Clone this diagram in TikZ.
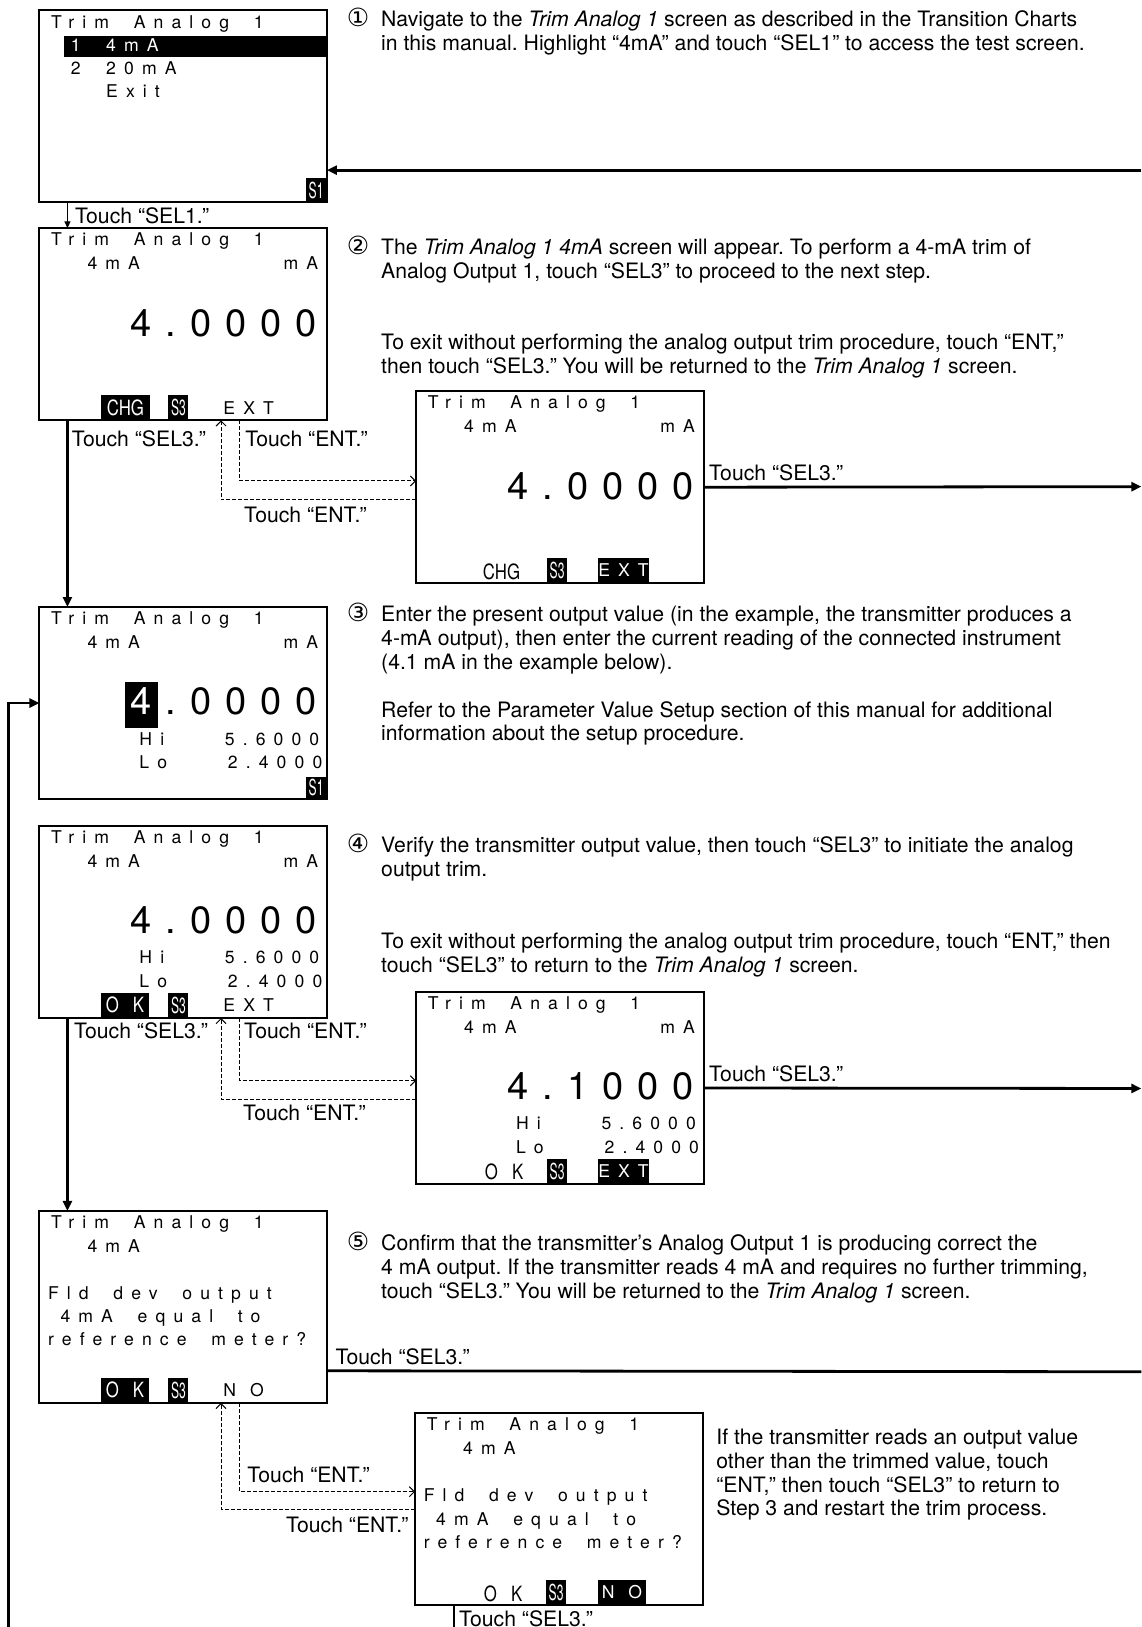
\documentclass[tikz,border=0pt]{standalone}
\usepackage{fontspec}
\setmainfont{TeX Gyre Heros}
\newfontfamily\lcdfont[LetterSpace=46,WordSpace=1.9]{TeX Gyre Heros}
\newfontfamily\bigfont[LetterSpace=37]{TeX Gyre Heros}
\newfontfamily\condfont[FakeStretch=0.8]{TeX Gyre Heros}
\newfontfamily\tagfont[FakeStretch=0.55]{TeX Gyre Heros}
\newfontfamily\circfont{DejaVu Sans}
\usetikzlibrary{positioning, arrows.meta, calc}
\newcommand{\textlines}[1]{\begin{tabular}[t]{@{}l@{}}#1\end{tabular}}
\frenchspacing

\begin{document}
\begin{tikzpicture}[
        x=0.5187pt, y=-0.5187pt,
        screen/.style={rectangle, draw=black, line width=1pt, minimum width=143.7pt, minimum height=96pt, inner sep=0pt, outer sep=0pt, anchor=north west},
        lcd/.style={font=\lcdfont\fontsize{8.8}{10}\selectfont, inner sep=0pt, anchor=base west},
        lcdr/.style={lcd, anchor=base east},
        bignum/.style={font=\bigfont\fontsize{19}{22}\selectfont, inner sep=0pt, anchor=base east},
        tag/.style={fill=black, text=white, inner sep=0pt, minimum height=12.4pt, anchor=south west, font=\tagfont\fontsize{11}{12}\selectfont},
        steptext/.style={anchor=base west, inner sep=0pt, font=\fontsize{10.6}{11.93}\selectfont},
        touch/.style={font=\fontsize{10.6}{12}\selectfont, inner sep=0pt, anchor=base west},
        stepnum/.style={font=\circfont\fontsize{12.5}{12}\selectfont, inner sep=0pt, anchor=base west},
        arrow/.style={-{Triangle[length=5pt, width=4.5pt]}, line width=1.4pt},
        thinarrow/.style={-{Triangle[length=3.5pt, width=3pt]}, line width=0.6pt},
        entarrow/.style={-{Straight Barb[length=2.5pt, width=5pt]}, line width=0.5pt, dash pattern=on 2pt off 1pt}
    ]
    \useasboundingbox (0,0) rectangle (1100,1568);

    % Screens
    \node[screen] (s1) at (38,10) {};
    \node[screen] (s2) at (38,220) {};
    \node[screen] (s2b) at (401,377) {};
    \node[screen] (s3) at (38,585) {};
    \node[screen] (s4) at (38,796) {};
    \node[screen] (s4b) at (401,956) {};
    \node[screen] (s5) at (38,1167) {};
    \node[screen] (s5b) at (400,1362) {};

    % Header lines
    \foreach \s in {s1,s2,s2b,s3,s4,s4b,s5,s5b}
        \node[lcd] (\s-head) at ($(\s.north west)+(11,17)$) {Trim Analog 1};
    \foreach \s in {s2,s2b,s3,s4,s4b,s5,s5b}
        \node[lcd] (\s-sub) at ($(\s.north west)+(46,40)$) {4mA};
    \foreach \s in {s2,s2b,s3,s4,s4b}
        \node[lcdr] (\s-unit) at ($(\s.north west)+(269,40)$) {mA};

    % Screen 1 menu
    \node[fill=black, inner sep=0pt, minimum width=131.4pt, minimum height=10.9pt, anchor=north east] (s1-bar) at ($(s1.north east)+(0,24)$) {};
    \node[lcd, text=white] (s1-n1) at ($(s1.north west)+(30,40)$) {1};
    \node[lcd, text=white] (s1-m1) at ($(s1.north west)+(64,40)$) {4mA};
    \node[lcd] (s1-n2) at ($(s1.north west)+(30,62)$) {2};
    \node[lcd] (s1-m2) at ($(s1.north west)+(64,62)$) {20mA};
    \node[lcd] (s1-m3) at ($(s1.north west)+(64,84)$) {Exit};
    \node[tag, anchor=south east, minimum width=10.4pt, minimum height=12pt] (s1-key) at (s1.south east) {S1};

    % Big readings
    \node[bignum] (s2-val) at ($(s2.north west)+(268,104)$) {4.0000};
    \node[bignum] (s2b-val) at ($(s2b.north west)+(268,104)$) {4.0000};
    \node[fill=black, inner sep=0pt, minimum width=16.6pt, minimum height=22.8pt, anchor=north west] (s3-cur) at ($(s3.north west)+(82,72)$) {};
    \node[bignum] (s3-val) at ($(s3.north west)+(268,104)$) {\textcolor{white}{4}\kern7pt.0000};
    \node[bignum] (s4-val) at ($(s4.north west)+(268,104)$) {4.0000};
    \node[bignum] (s4b-val) at ($(s4b.north west)+(268,104)$) {4.1000};

    % Hi / Lo lines
    \foreach \s in {s3,s4,s4b} {
        \node[lcd] (\s-hi) at ($(\s.north west)+(96,133)$) {Hi};
        \node[lcdr] (\s-hival) at ($(\s.north west)+(270,133)$) {5.6000};
        \node[lcd] (\s-lo) at ($(\s.north west)+(96,156)$) {Lo};
        \node[lcdr] (\s-loval) at ($(\s.north west)+(273,156)$) {2.4000};
    }
    \node[tag, anchor=south east, minimum width=10.4pt, minimum height=10.9pt] (s3-key) at (s3.south east) {S1};

    % Question lines
    \foreach \s in {s5,s5b} {
        \node[lcd] (\s-q1) at ($(\s.north west)+(8,85)$) {Fld dev output};
        \node[lcd] (\s-q2) at ($(\s.north west)+(20,108)$) {4mA equal to};
        \node[lcd] (\s-q3) at ($(\s.north west)+(8,130)$) {reference meter?};
    }

    % Soft keys
    \node[tag, minimum width=24.4pt, font=\condfont\fontsize{10.5}{12}\selectfont] (s2-chg) at ($(s2.south west)+(59,0)$) {CHG};
    \node[tag, minimum width=9.9pt] (s2-s3) at ($(s2.south west)+(124,0)$) {S3};
    \node[lcd] (s2-ext) at ($(s2.south west)+(177,-6)$) {EXT};

    \node[touch, font=\condfont\fontsize{10.5}{12}\selectfont] (s2b-chg) at ($(s2b.south west)+(64,-4)$) {CHG};
    \node[tag, minimum width=9.9pt] (s2b-s3) at ($(s2b.south west)+(126,0)$) {S3};
    \node[tag, minimum width=25.4pt, font=\lcdfont\fontsize{8.8}{10}\selectfont] (s2b-ext) at ($(s2b.south west)+(175,0)$) {EXT};

    \node[tag, minimum width=23.9pt, font=\condfont\fontsize{10.5}{12}\selectfont] (s4-ok) at ($(s4.south west)+(59,0)$) {O\hspace{7pt}K};
    \node[tag, minimum width=9.9pt] (s4-s3) at ($(s4.south west)+(124,0)$) {S3};
    \node[lcd] (s4-ext) at ($(s4.south west)+(177,-6)$) {EXT};

    \node[touch, font=\condfont\fontsize{10.5}{12}\selectfont] (s4b-ok) at ($(s4b.south west)+(66,-4)$) {O\hspace{7pt}K};
    \node[tag, minimum width=9.9pt] (s4b-s3) at ($(s4b.south west)+(126,0)$) {S3};
    \node[tag, minimum width=25.4pt, font=\lcdfont\fontsize{8.8}{10}\selectfont] (s4b-ext) at ($(s4b.south west)+(175,0)$) {EXT};

    \node[tag, minimum width=23.9pt, font=\condfont\fontsize{10.5}{12}\selectfont] (s5-ok) at ($(s5.south west)+(59,0)$) {O\hspace{7pt}K};
    \node[tag, minimum width=9.9pt] (s5-s3) at ($(s5.south west)+(124,0)$) {S3};
    \node[lcd] (s5-no) at ($(s5.south west)+(177,-6)$) {N\hspace{7pt}O};

    \node[touch, font=\condfont\fontsize{10.5}{12}\selectfont] (s5b-ok) at ($(s5b.south west)+(66,-4)$) {O\hspace{7pt}K};
    \node[tag, minimum width=9.9pt] (s5b-s3) at ($(s5b.south west)+(126,0)$) {S3};
    \node[tag, minimum width=23.9pt, font=\lcdfont\fontsize{8.8}{10}\selectfont] (s5b-no) at ($(s5b.south west)+(176,0)$) {N\hspace{7pt}O};

    % Step texts
    \node[stepnum] (n1) at (334,26) {①};
    \node[steptext] (t1) at (367,26) {\textlines{Navigate to the \textit{Trim Analog 1} screen as described in the Transition Charts\\in this manual. Highlight “4mA” and touch “SEL1” to access the test screen.}};
    \node[stepnum] (n2) at (334,245) {②};
    \node[steptext] (t2) at (367,245) {\textlines{The \textit{Trim Analog 1 4mA} screen will appear. To perform a 4-mA trim of\\Analog Output 1, touch “SEL3” to proceed to the next step.}};
    \node[steptext] (t2x) at (367,337) {\textlines{To exit without performing the analog output trim procedure, touch “ENT,”\\then touch “SEL3.” You will be returned to the \textit{Trim Analog 1} screen.}};
    \node[stepnum] (n3) at (334,599) {③};
    \node[steptext] (t3) at (367,599) {\textlines{Enter the present output value (in the example, the transmitter produces a\\4-mA output), then enter the current reading of the connected instrument\\(4.1 mA in the example below).}};
    \node[steptext] (t3x) at (367,691) {\textlines{Refer to the Parameter Value Setup section of this manual for additional\\information about the setup procedure.}};
    \node[stepnum] (n4) at (334,822) {④};
    \node[steptext] (t4) at (367,822) {\textlines{Verify the transmitter output value, then touch “SEL3” to initiate the analog\\output trim.}};
    \node[steptext] (t4x) at (367,914) {\textlines{To exit without performing the analog output trim procedure, touch “ENT,” then\\touch “SEL3” to return to the \textit{Trim Analog 1} screen.}};
    \node[stepnum] (n5) at (334,1205) {⑤};
    \node[steptext] (t5) at (367,1205) {\textlines{Confirm that the transmitter’s Analog Output 1 is producing correct the\\4 mA output. If the transmitter reads 4 mA and requires no further trimming,\\touch “SEL3.” You will be returned to the \textit{Trim Analog 1} screen.}};
    \node[steptext] (t5x) at (690,1392) {\textlines{If the transmitter reads an output value\\other than the trimmed value, touch\\“ENT,” then touch “SEL3” to return to\\Step 3 and restart the trim process.}};

    % Free ends at the page edges
    \coordinate (in1) at (1100,164);
    \coordinate (out2) at (1100,469);
    \coordinate (out4) at (1100,1049);
    \coordinate (out5) at (1100,1322);
    \coordinate (loop) at (8,1568);
    \coordinate (down5) at (438,1568);

    % Screen 1 to screen 2
    \draw[arrow] (in1) -- (in1 -| s1.east);
    \draw[thinarrow] ($(s1.south west)+(27,0)$) -- ($(s2.north west)+(27,0)$);
    \node[touch] (l1) at ($(s1.south west)+(34,20)$) {Touch “SEL1.”};

    % Screen 2 to screen 3
    \draw[arrow] ($(s2.south west)+(27,0)$) -- ($(s3.north west)+(27,0)$);
    \node[touch] (l2) at ($(s2.south west)+(31,25)$) {Touch “SEL3.”};
    \node[touch] (l2e) at ($(s2.south west)+(198,25)$) {Touch “ENT.”};
    \node[touch] (l2f) at ($(s2.south west)+(197,98)$) {Touch “ENT.”};
    \draw[entarrow] ($(s2.south west)+(193,0)$) |- ($(s2b.west)+(0,-6)$);
    \draw[entarrow] ($(s2b.west)+(0,12)$) -| ($(s2.south west)+(175,0)$);
    \draw[arrow] (s2b.east) -- (out2);
    \node[touch] (l2b) at ($(s2b.east)+(5,-6)$) {Touch “SEL3.”};

    % Back to screen 3
    \draw[arrow] (loop) |- (s3.west);

    % Screen 4 to screen 5
    \draw[arrow] ($(s4.south west)+(27,0)$) -- ($(s5.north west)+(27,0)$);
    \node[touch] (l4) at ($(s4.south west)+(33,20)$) {Touch “SEL3.”};
    \node[touch] (l4e) at ($(s4.south west)+(197,20)$) {Touch “ENT.”};
    \node[touch] (l4f) at ($(s4.south west)+(196,99)$) {Touch “ENT.”};
    \draw[entarrow] ($(s4.south west)+(193,0)$) |- ($(s4b.west)+(0,-7)$);
    \draw[entarrow] ($(s4b.west)+(0,11)$) -| ($(s4.south west)+(175,0)$);
    \draw[arrow] (s4b.east) -- (out4);
    \node[touch] (l4b) at ($(s4b.east)+(5,-6)$) {Touch “SEL3.”};

    % Screen 5
    \draw[line width=1.4pt] ($(s5.south east)+(0,-31)$) -- (out5);
    \node[touch] (l5) at ($(s5.south east)+(8,-37)$) {Touch “SEL3.”};
    \draw[entarrow] ($(s5.south west)+(193,0)$) |- ($(s5b.west)+(0,-17)$);
    \draw[entarrow] (s5b.west) -| ($(s5.south west)+(175,0)$);
    \node[touch] (l5e) at ($(s5.south west)+(200,77)$) {Touch “ENT.”};
    \node[touch, anchor=base east] (l5f) at ($(s5b.west)+(-6,22)$) {Touch “ENT.”};
    \draw[line width=1pt] ($(s5b.south west)+(38,0)$) -- (down5);
    \node[touch] (l5b) at ($(s5b.south west)+(42,20)$) {Touch “SEL3.”};

\end{tikzpicture}
\end{document}
